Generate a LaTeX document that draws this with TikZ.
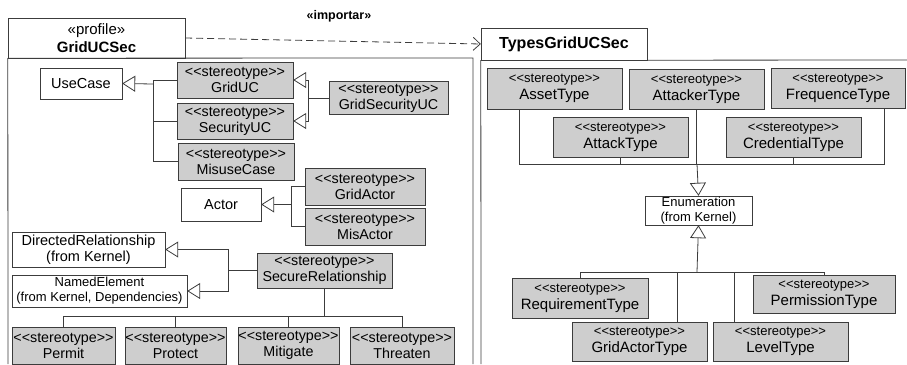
\documentclass[tikz,border=0pt]{standalone}
\usepackage{fontspec}
\setmainfont{Liberation Sans}
\usetikzlibrary{arrows.meta}
\definecolor{boxgray}{RGB}{206,206,206}
\definecolor{linegray}{RGB}{60,60,60}
\newcommand{\stereo}{<{}<stereotype>{}>}
\newcommand{\smstereo}{{\fontsize{13}{14}\selectfont\stereo}}

\begin{document}
\begin{tikzpicture}[x=1pt,y=-1pt,
    stbox/.style={draw=linegray,fill=boxgray,align=center,inner sep=0pt,
        minimum height=36pt,font=\fontsize{14.3}{16}\selectfont},
    rtbox/.style={stbox,minimum height=40pt,font=\fontsize{15}{17}\selectfont},
    plainbox/.style={draw=linegray,fill=white,align=center,inner sep=0pt,
        font=\fontsize{14.5}{16}\selectfont},
    conn/.style={draw=linegray,line width=0.8pt},
    inh/.style={conn,-{Triangle[open,length=13pt,width=16pt]}}]
    \useasboundingbox (0,0) rectangle (907,364);

    % packages
    \node[draw=linegray,minimum width=177pt,minimum height=40pt,inner sep=0pt,
        align=center,font=\fontsize{15}{18}\selectfont] (profile) at (96.5,38)
        {«profile»\\\textbf{GridUCSec}};
    \draw[conn] (profile.south west) -- (8,364);
    \draw[conn] (profile.south west) -- (473,58) -- (473,364);
    \node[draw=linegray,minimum width=166pt,minimum height=32pt,inner sep=0pt,
        font=\fontsize{16}{18}\selectfont\bfseries] (types) at (564,44) {TypesGridUCSec};
    \draw[conn] (types.south west) -- (481,364);
    \draw[conn] (types.south east) -- (907,60);
    \draw[conn,dash pattern=on 7pt off 4pt,-{Straight Barb[length=7pt,width=13pt]}] (profile.east) --
        node[pos=0.52,yshift=25pt,font=\fontsize{12.5}{14}\selectfont\bfseries]{«importar»} (types.west);

    % use cases
    \node[plainbox,minimum width=82pt,minimum height=31pt] (UseCase) at (81,83.5) {UseCase};
    \node[stbox,minimum width=116pt] (GridUC) at (235,80) {\stereo\\GridUC};
    \node[stbox,minimum width=116pt] (SecurityUC) at (235,121) {\stereo\\SecurityUC};
    \node[stbox,minimum width=116pt,minimum height=37pt] (MisuseCase) at (236,161.5) {\stereo\\MisuseCase};
    \node[stbox,minimum width=119pt,minimum height=33pt] (GridSecurityUC) at (388.5,98) {\stereo\\GridSecurityUC};
    \coordinate (ucj) at (153,84);
    \coordinate (gsj) at (308,98);
    \draw[conn] (GridUC.west) -| (ucj);
    \draw[conn] (SecurityUC.west) -| (ucj);
    \draw[conn] (MisuseCase.west) -| (ucj);
    \draw[inh] (ucj) -- (UseCase.east);
    \draw[conn] (GridSecurityUC.west) -- (gsj);
    \draw[inh] (gsj) |- (GridUC.east);
    \draw[inh] (gsj) |- (SecurityUC.east);

    % actors
    \node[plainbox,minimum width=80pt,minimum height=33pt] (Actor) at (221,204.5) {Actor};
    \node[stbox,minimum width=120pt,minimum height=37pt] (GridActor) at (365,186.5) {\stereo\\GridActor};
    \node[stbox,minimum width=120pt,minimum height=37pt] (MisActor) at (365,226.5) {\stereo\\MisActor};
    \coordinate (acj) at (291,204.5);
    \draw[conn] (GridActor.west) -| (acj);
    \draw[conn] (MisActor.west) -| (acj);
    \draw[inh] (acj) -- (Actor.east);

    % relationships
    \node[plainbox,minimum width=153pt,minimum height=35pt] (DirRel) at (88.5,249.5)
        {DirectedRelationship\\(from Kernel)};
    \node[plainbox,minimum width=175pt,minimum height=32pt,font=\fontsize{13}{15}\selectfont]
        (NamedEl) at (99.5,291) {NamedElement\\(from Kernel, Dependencies)};
    \node[stbox,minimum width=135pt,minimum height=35pt] (SecureRel) at (324.5,270.5)
        {\stereo\\SecureRelationship};
    \coordinate (srj) at (228,270.5);
    \draw[conn] (SecureRel.west) -- (srj);
    \draw[inh] (srj) |- (DirRel.east);
    \draw[inh] (srj) |- (NamedEl.east);

    \node[stbox,minimum width=103pt,minimum height=37pt] (Permit) at (63.5,345.5) {\stereo\\Permit};
    \node[stbox,minimum width=101pt,minimum height=37pt] (Protect) at (175.5,345.5) {\stereo\\Protect};
    \node[stbox,minimum width=101pt,minimum height=37pt] (Mitigate) at (288.5,345.5) {\stereo\\Mitigate};
    \node[stbox,minimum width=104pt,minimum height=37pt] (Threaten) at (402,345.5) {\stereo\\Threaten};
    \coordinate (srb) at (SecureRel.south |- 0,316);
    \draw[conn] (SecureRel.south) -- (srb);
    \foreach \n in {Permit,Protect,Mitigate,Threaten}
        \draw[conn] (srb) -| (\n.north);

    % enumeration types
    \node[rtbox,minimum width=135pt,minimum height=41pt] (AssetType) at (554.5,88.5) {\smstereo\\AssetType};
    \node[rtbox,minimum width=135pt] (AttackerType) at (696.5,89) {\smstereo\\AttackerType};
    \node[rtbox,minimum width=134pt] (FrequenceType) at (838,88) {\smstereo\\FrequenceType};
    \node[rtbox,minimum width=135pt] (AttackType) at (620.5,137) {\smstereo\\AttackType};
    \node[rtbox,minimum width=135pt] (CredentialType) at (793.5,137) {\smstereo\\CredentialType};
    \node[plainbox,minimum width=107pt,minimum height=29pt,font=\fontsize{13}{15}\selectfont]
        (Enumeration) at (698.5,210.5) {Enumeration\\(from Kernel)};
    \coordinate (enj) at (697,164);
    \draw[conn] ([xshift=-35pt]AssetType.south) |- (enj);
    \draw[conn] ([xshift=46pt]FrequenceType.south) |- (enj);
    \foreach \n in {AttackerType,AttackType,CredentialType}
        \draw[conn] (\n.south) |- (enj);
    \draw[inh] (enj) -- (Enumeration.north);

    \node[rtbox,minimum width=136pt] (RequirementType) at (580,298) {\smstereo\\RequirementType};
    \node[rtbox,minimum width=135pt,minimum height=39pt] (GridActorType) at (639.5,341.5) {\smstereo\\GridActorType};
    \node[rtbox,minimum width=135pt,minimum height=39pt] (LevelType) at (780.5,341.5) {\smstereo\\LevelType};
    \node[rtbox,minimum width=142pt,minimum height=38pt] (PermissionType) at (824,294) {\smstereo\\PermissionType};
    \coordinate (enb) at (697,272);
    \draw[inh] (enb) -- (Enumeration.south);
    \draw[conn] (enb) -| (RequirementType.north);
    \draw[conn] (enb) -| (PermissionType.north);
    \draw[conn] (enb) -| ([xshift=38pt]GridActorType.north);
    \draw[conn] (enb) -| ([xshift=-46pt]LevelType.north);
\end{tikzpicture}
\end{document}
